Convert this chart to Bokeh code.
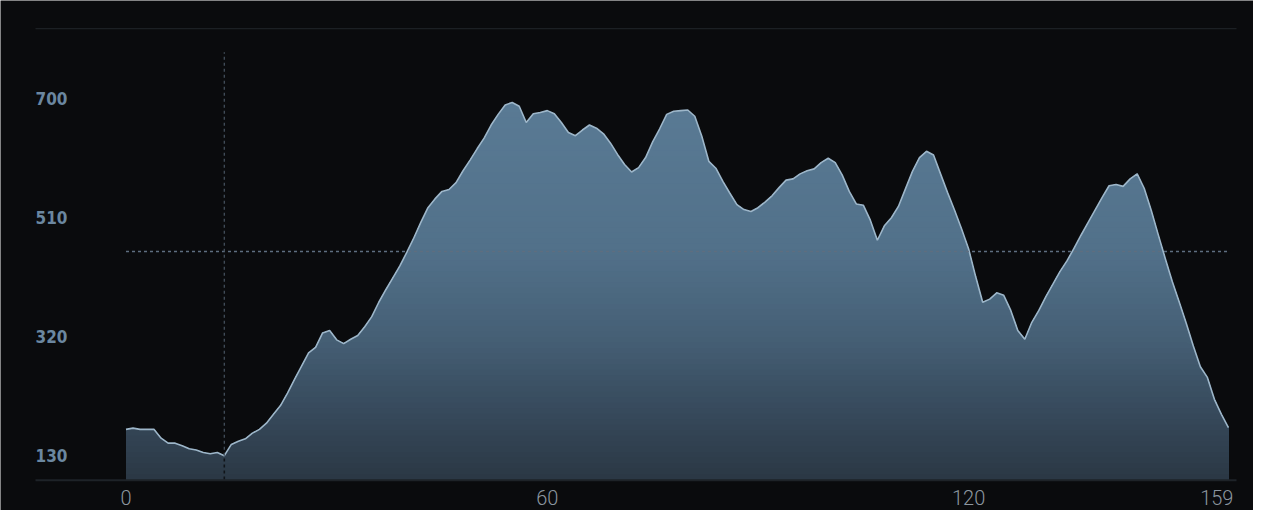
import numpy as np
from bokeh.plotting import figure
from bokeh.models import Range1d, ColumnDataSource
from bokeh.core.properties import value
from bokeh.embed import file_html
from bokeh.resources import INLINE

# ---- data ----
values = [172, 174, 172, 172, 172, 158, 150, 150, 146, 141,
          139, 135, 133, 135, 130, 148, 153, 157, 166, 172,
          182, 196, 210, 230, 252, 273, 294, 303, 326, 330,
          315, 309, 316, 322, 336, 352, 375, 395, 414, 433,
          455, 478, 503, 526, 540, 552, 555, 566, 585, 602,
          620, 637, 658, 675, 690, 694, 688, 662, 676, 678,
          681, 676, 662, 646, 641, 650, 658, 653, 644, 629,
          611, 595, 583, 590, 606, 631, 652, 675, 680, 681,
          682, 672, 640, 600, 589, 568, 549, 531, 523, 520,
          526, 535, 545, 558, 570, 572, 580, 585, 588, 598,
          605, 598, 578, 552, 532, 530, 506, 474, 497, 510,
          528, 556, 584, 606, 616, 610, 580, 550, 522, 492,
          460, 416, 375, 380, 390, 386, 362, 330, 316, 343,
          362, 384, 404, 424, 441, 461, 482, 502, 522, 542,
          561, 563, 560, 572, 580, 557, 522, 483, 445, 408,
          375, 341, 305, 272, 255, 220, 196, 175]
x_index = list(range(len(values)))

y_tick_values = [130, 320, 510, 700]
y_tick_labels = ["130", "320", "510", "700"]
x_tick_values = [0, 60, 120, 157]
x_tick_labels = ["0", "60", "120", "159"]

average_value = 456
crosshair_x = 14
crosshair_top = 774

baseline = 92
top_value = 812

# ---- layout (data units of the full-figure frame) ----
W, H = 1253, 510
px_x, x0_px = 7.022, 125.5
px_y, base_px = 0.6263, 479
x_min = -x0_px / px_x
x_max = (W - x0_px) / px_x
y_min = baseline - (H - base_px) / px_y
y_max = baseline + base_px / px_y
left_edge = (35 - x0_px) / px_x
rule_end = (1236 - x0_px) / px_x
xlabel_y = baseline - 18 / px_y

BG = "#0a0b0d"
p = figure(width=W, height=H, output_backend="svg", toolbar_location=None,
           x_range=Range1d(x_min, x_max), y_range=Range1d(y_min, y_max),
           min_border=0)
p.min_border_left = p.min_border_right = p.min_border_top = p.min_border_bottom = 0
p.background_fill_color = BG
p.border_fill_color = BG
p.outline_line_color = None
p.grid.visible = False
p.axis.visible = False

# gradient area: stacked layers, each from baseline up to min(value, level)
vals = np.array(values, dtype=float)
xs = np.array(x_index, dtype=float)
stops_v = [92, 200, 320, 456, 700, 812]
stops_c = [(43, 56, 69), (55, 74, 92), (70, 96, 118), (82, 113, 138), (90, 123, 149), (92, 126, 152)]
levels = np.linspace(baseline, vals.max() + 2, 70)
for k in range(len(levels) - 1, 0, -1):
    lv = levels[k]
    mid = 0.5 * (levels[k] + levels[k - 1])
    r = np.interp(mid, stops_v, [c[0] for c in stops_c])
    g = np.interp(mid, stops_v, [c[1] for c in stops_c])
    b = np.interp(mid, stops_v, [c[2] for c in stops_c])
    col = "#%02x%02x%02x" % (int(r), int(g), int(b))
    p.varea(x=xs, y1=np.full_like(vals, baseline), y2=np.minimum(vals, lv), fill_color=col)

p.line(x_index, values, line_color="#9db6c9", line_width=1.6)

# average dotted line across the data span
p.segment(x0=[x_index[0]], y0=[average_value], x1=[x_index[-1]], y1=[average_value],
          line_color="#5e6e80", line_width=1.6, line_dash="3 3")

# crosshair
cv = values[crosshair_x]
p.segment(x0=[crosshair_x], y0=[cv], x1=[crosshair_x], y1=[crosshair_top],
          line_color="#434f5b", line_width=1.3, line_dash="3 3")
p.segment(x0=[crosshair_x], y0=[baseline], x1=[crosshair_x], y1=[cv],
          line_color="#101419", line_width=1.6, line_dash="3 3")

# top and bottom rules
p.segment(x0=[left_edge], y0=[top_value], x1=[rule_end], y1=[top_value],
          line_color="#1c2024", line_width=1.2)
p.segment(x0=[left_edge], y0=[baseline - 1.2], x1=[rule_end], y1=[baseline - 1.2],
          line_color="#1e2328", line_width=2)

# y labels
p.text(x=[left_edge] * len(y_tick_values), y=y_tick_values, text=y_tick_labels,
       text_font=value("DejaVu Sans Condensed, Roboto"), text_font_style="bold",
       text_font_size="17px", text_color="#6b87a0",
       text_align="left", text_baseline="middle")

# x labels
xsrc = ColumnDataSource(dict(
    x=x_tick_values, y=[xlabel_y] * len(x_tick_values), text=x_tick_labels,
    align=["center"] * (len(x_tick_values) - 1) + ["right"],
    xoff=[0] * (len(x_tick_values) - 1) + [5],
))
p.text(x="x", y="y", text="text", source=xsrc, text_align="align", x_offset="xoff",
       text_baseline="middle", text_font=value("Roboto Light"),
       text_font_size="20px", text_color="#8c969f")

open("out.html", "w").write(file_html(p, INLINE))
